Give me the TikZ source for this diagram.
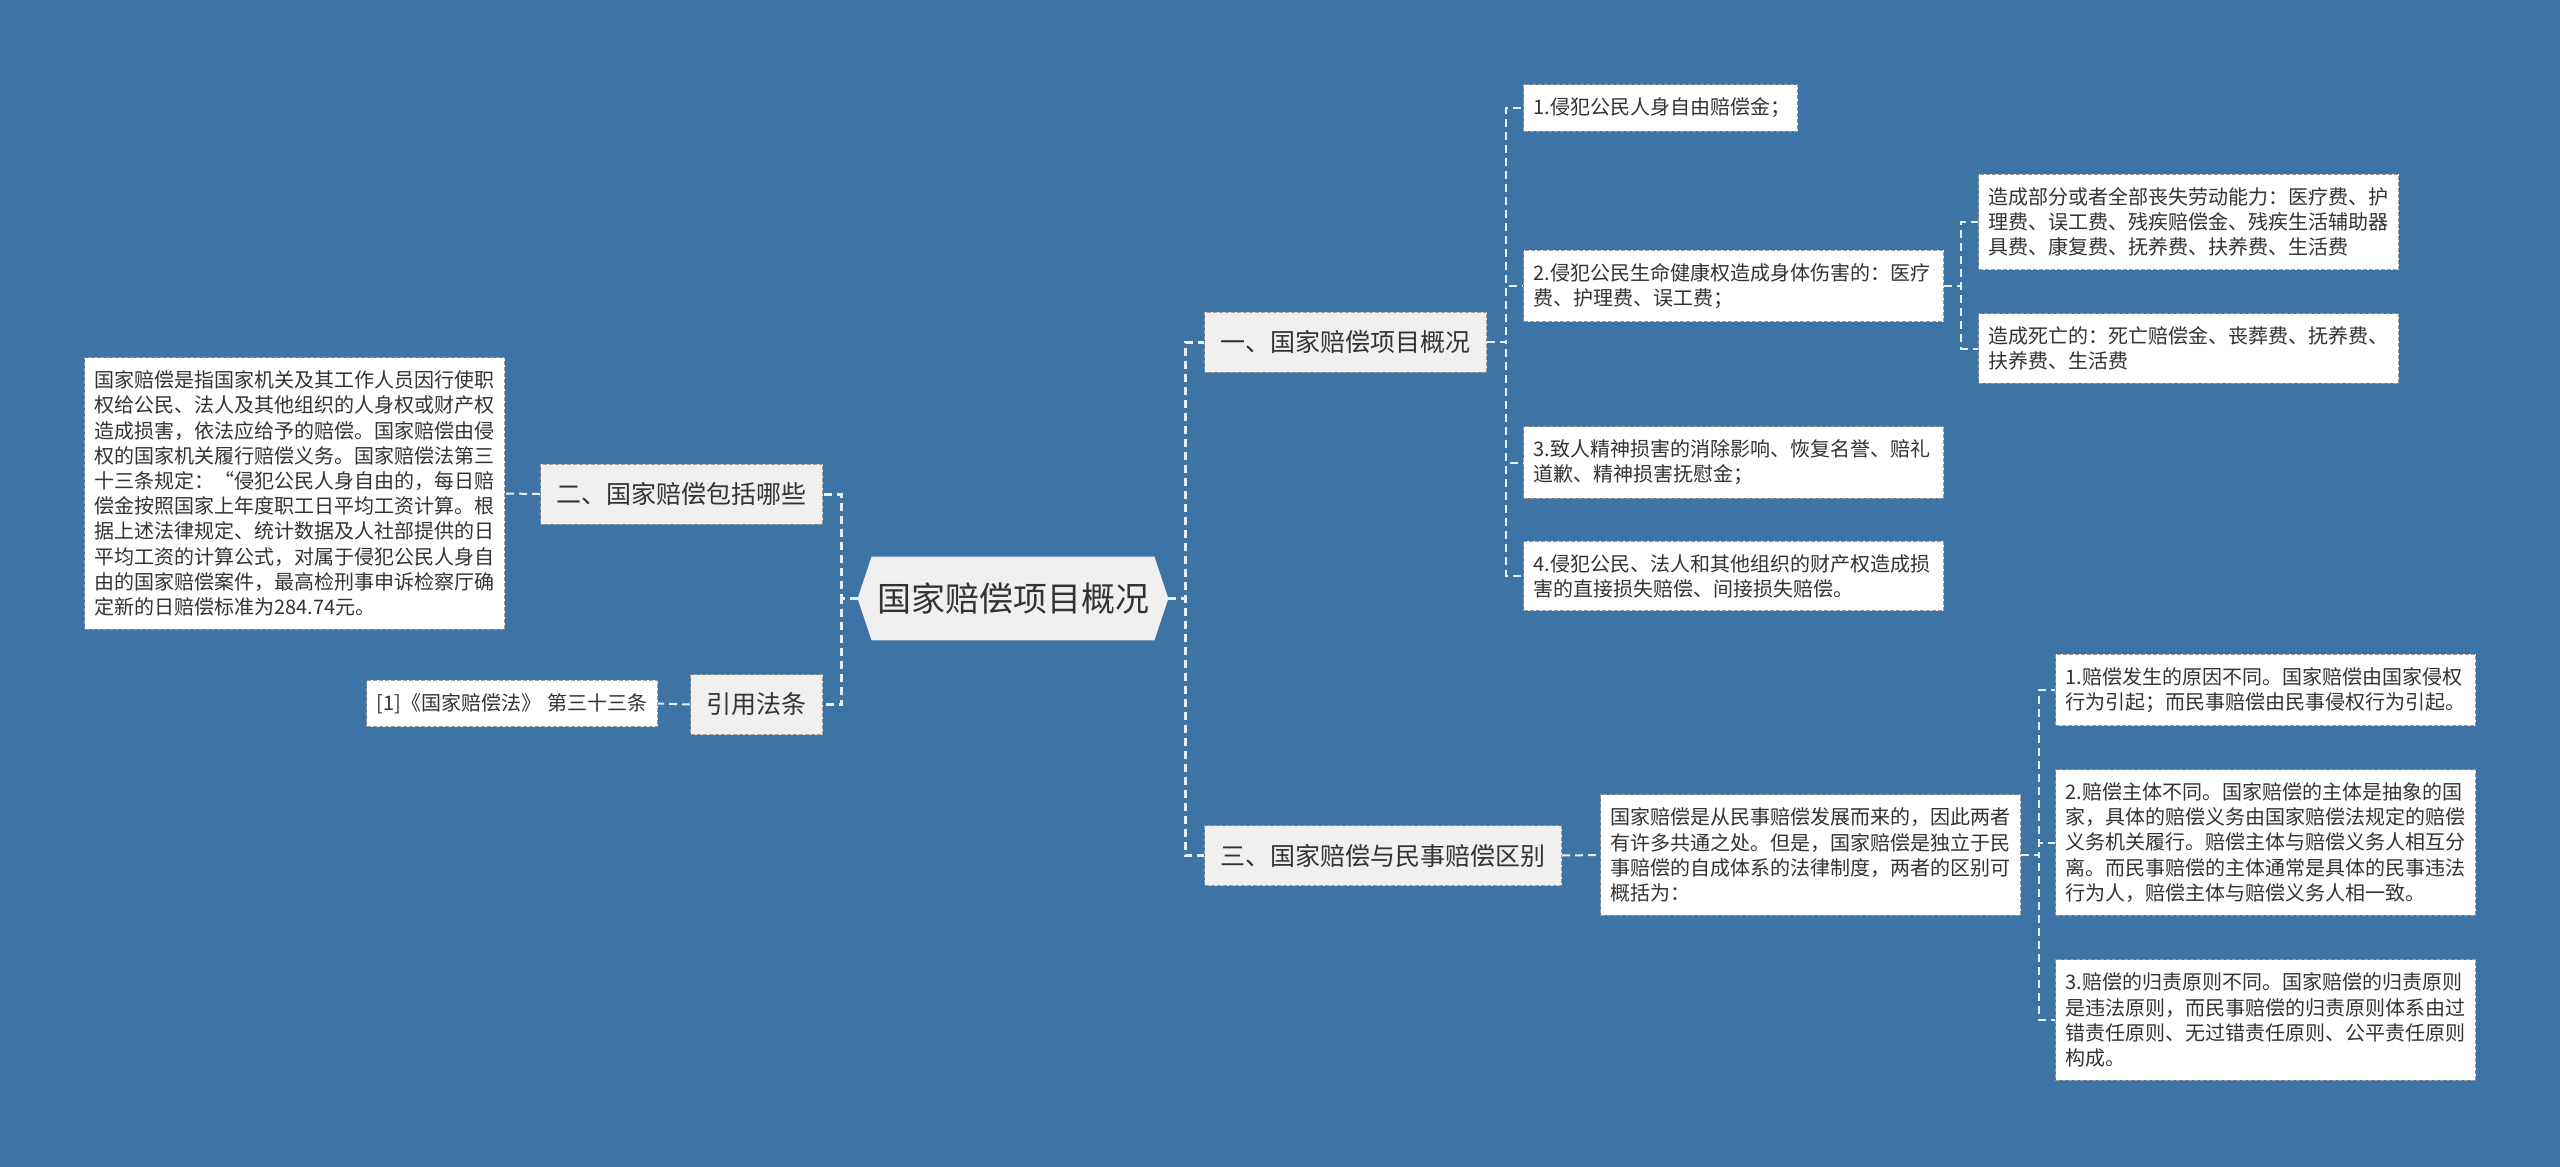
\documentclass[tikz,border=0pt]{standalone}
\usepackage{fontspec}
\setmainfont{Noto Sans CJK SC}
\usepackage{xcolor}
\usepackage{tikz}
\usetikzlibrary{positioning, backgrounds}
\definecolor{mapblue}{HTML}{3E73A6}
\definecolor{topicgray}{HTML}{F0F0F0}
\definecolor{inkgray}{HTML}{333333}
\definecolor{edgegray}{HTML}{9A9A9A}
\definecolor{linkwhite}{HTML}{E8EEF5}

\tikzset{
  topicnode/.style={fill=topicgray, draw=edgegray, dash pattern=on 2pt off 1pt, line width=0.5pt,
    text=inkgray, font=\fontsize{12.5}{15}\selectfont, inner xsep=8pt, minimum height=30pt},
  leafnode/.style={fill=white, draw=edgegray, dash pattern=on 2pt off 1pt, line width=0.5pt,
    text=inkgray, font=\fontsize{10}{12.6}\selectfont, inner xsep=5pt, inner ysep=6.5pt, align=left},
  mainlink/.style={draw=linkwhite, line width=1.5pt, dash pattern=on 4pt off 2.5pt},
  sublink/.style={draw=linkwhite, line width=1pt, dash pattern=on 4pt off 2.5pt},
}

\begin{document}
\begin{tikzpicture}[x=0.5pt, y=-0.5pt]
  \useasboundingbox (0,0) rectangle (2560,1167);
  \begin{scope}[on background layer]
    \fill[mapblue] (0,0) rectangle (2560,1167);
  \end{scope}

  % centre
  \node[text=inkgray, font=\fontsize{17}{20}\selectfont, minimum width=155pt, minimum height=41.5pt,
        inner sep=0pt] (root) at (1013,598.5) {国家赔偿项目概况};
  \begin{scope}[on background layer]
    \fill[topicgray] ([xshift=7pt]root.north west) -- ([xshift=-7pt]root.north east) -- (root.east)
      -- ([xshift=-7pt]root.south east) -- ([xshift=7pt]root.south west) -- (root.west) -- cycle;
  \end{scope}

  % left branch
  \node[topicnode, anchor=east] (howmuch) at (823,494) {二、国家赔偿包括哪些};
  \node[topicnode, anchor=east] (statute) at (823,704.5) {引用法条};
  \node[leafnode, text width=200pt, anchor=east] (defn) at (505,493.5) {%
    国家赔偿是指国家机关及其工作人员因行使职\\权给公民、法人及其他组织的人身权或财产权\\%
    造成损害，依法应给予的赔偿。国家赔偿由侵\\权的国家机关履行赔偿义务。国家赔偿法第三\\%
    十三条规定：“侵犯公民人身自由的，每日赔\\偿金按照国家上年度职工日平均工资计算。根\\%
    据上述法律规定、统计数据及人社部提供的日\\平均工资的计算公式，对属于侵犯公民人身自\\%
    由的国家赔偿案件，最高检刑事申诉检察厅确\\定新的日赔偿标准为284.74元。};
  \node[leafnode, text width=135.5pt, anchor=east] (cite) at (658,703.5) {\mbox{[1]《国家赔偿法》 第三十三条}};

  % right branch
  \node[topicnode, anchor=west] (items) at (1204,342) {一、国家赔偿项目概况};
  \node[topicnode, anchor=west] (versus) at (1204,855.5) {三、国家赔偿与民事赔偿区别};

  \node[leafnode, text width=127pt, anchor=west] (liberty) at (1523,108) {1.侵犯公民人身自由赔偿金；};
  \node[leafnode, text width=200pt, anchor=west] (health) at (1523,286) {%
    2.侵犯公民生命健康权造成身体伤害的：医疗\\费、护理费、误工费；};
  \node[leafnode, text width=200pt, anchor=west] (mental) at (1523,462.5) {%
    3.致人精神损害的消除影响、恢复名誉、赔礼\\道歉、精神损害抚慰金；};
  \node[leafnode, text width=200pt, anchor=west] (property) at (1523,576) {%
    4.侵犯公民、法人和其他组织的财产权造成损\\害的直接损失赔偿、间接损失赔偿。};
  \node[leafnode, text width=200pt, anchor=west] (disable) at (1978,222) {%
    造成部分或者全部丧失劳动能力：医疗费、护\\理费、误工费、残疾赔偿金、残疾生活辅助器\\%
    具费、康复费、抚养费、扶养费、生活费};
  \node[leafnode, text width=200pt, anchor=west] (death) at (1978,348.5) {%
    造成死亡的：死亡赔偿金、丧葬费、抚养费、\\扶养费、生活费};

  \node[leafnode, text width=200pt, anchor=west] (origin) at (1600,855) {%
    国家赔偿是从民事赔偿发展而来的，因此两者\\有许多共通之处。但是，国家赔偿是独立于民\\%
    事赔偿的自成体系的法律制度，两者的区别可\\概括为：};
  \node[leafnode, text width=200pt, anchor=west] (cause) at (2055,690) {%
    1.赔偿发生的原因不同。国家赔偿由国家侵权\\行为引起；而民事赔偿由民事侵权行为引起。};
  \node[leafnode, text width=200pt, anchor=west] (subject) at (2055,842.5) {%
    2.赔偿主体不同。国家赔偿的主体是抽象的国\\家，具体的赔偿义务由国家赔偿法规定的赔偿\\%
    义务机关履行。赔偿主体与赔偿义务人相互分\\离。而民事赔偿的主体通常是具体的民事违法\\%
    行为人，赔偿主体与赔偿义务人相一致。};
  \node[leafnode, text width=200pt, anchor=west] (fault) at (2055,1020) {%
    3.赔偿的归责原则不同。国家赔偿的归责原则\\是违法原则，而民事赔偿的归责原则体系由过\\%
    错责任原则、无过错责任原则、公平责任原则\\构成。};

  % connectors
  \draw[mainlink] (root.west) -- ++(-16,0) |- (howmuch.east);
  \draw[mainlink] (root.west) -- ++(-16,0) |- (statute.east);
  \draw[mainlink] (root.east) -- ++(17,0) |- (items.west);
  \draw[mainlink] (root.east) -- ++(17,0) |- (versus.west);
  \draw[sublink] (howmuch.west) -- (defn.east);
  \draw[sublink] (statute.west) -- (cite.east);
  \draw[sublink] (items.east) -- ++(19,0) |- (liberty.west);
  \draw[sublink] (items.east) -- ++(19,0) |- (health.west);
  \draw[sublink] (items.east) -- ++(19,0) |- (mental.west);
  \draw[sublink] (items.east) -- ++(19,0) |- (property.west);
  \draw[sublink] (health.east) -- ++(17,0) |- (disable.west);
  \draw[sublink] (health.east) -- ++(17,0) |- (death.west);
  \draw[sublink] (versus.east) -- (origin.west);
  \draw[sublink] (origin.east) -- ++(18,0) |- (cause.west);
  \draw[sublink] (origin.east) -- ++(18,0) |- (subject.west);
  \draw[sublink] (origin.east) -- ++(18,0) |- (fault.west);
\end{tikzpicture}
\end{document}
